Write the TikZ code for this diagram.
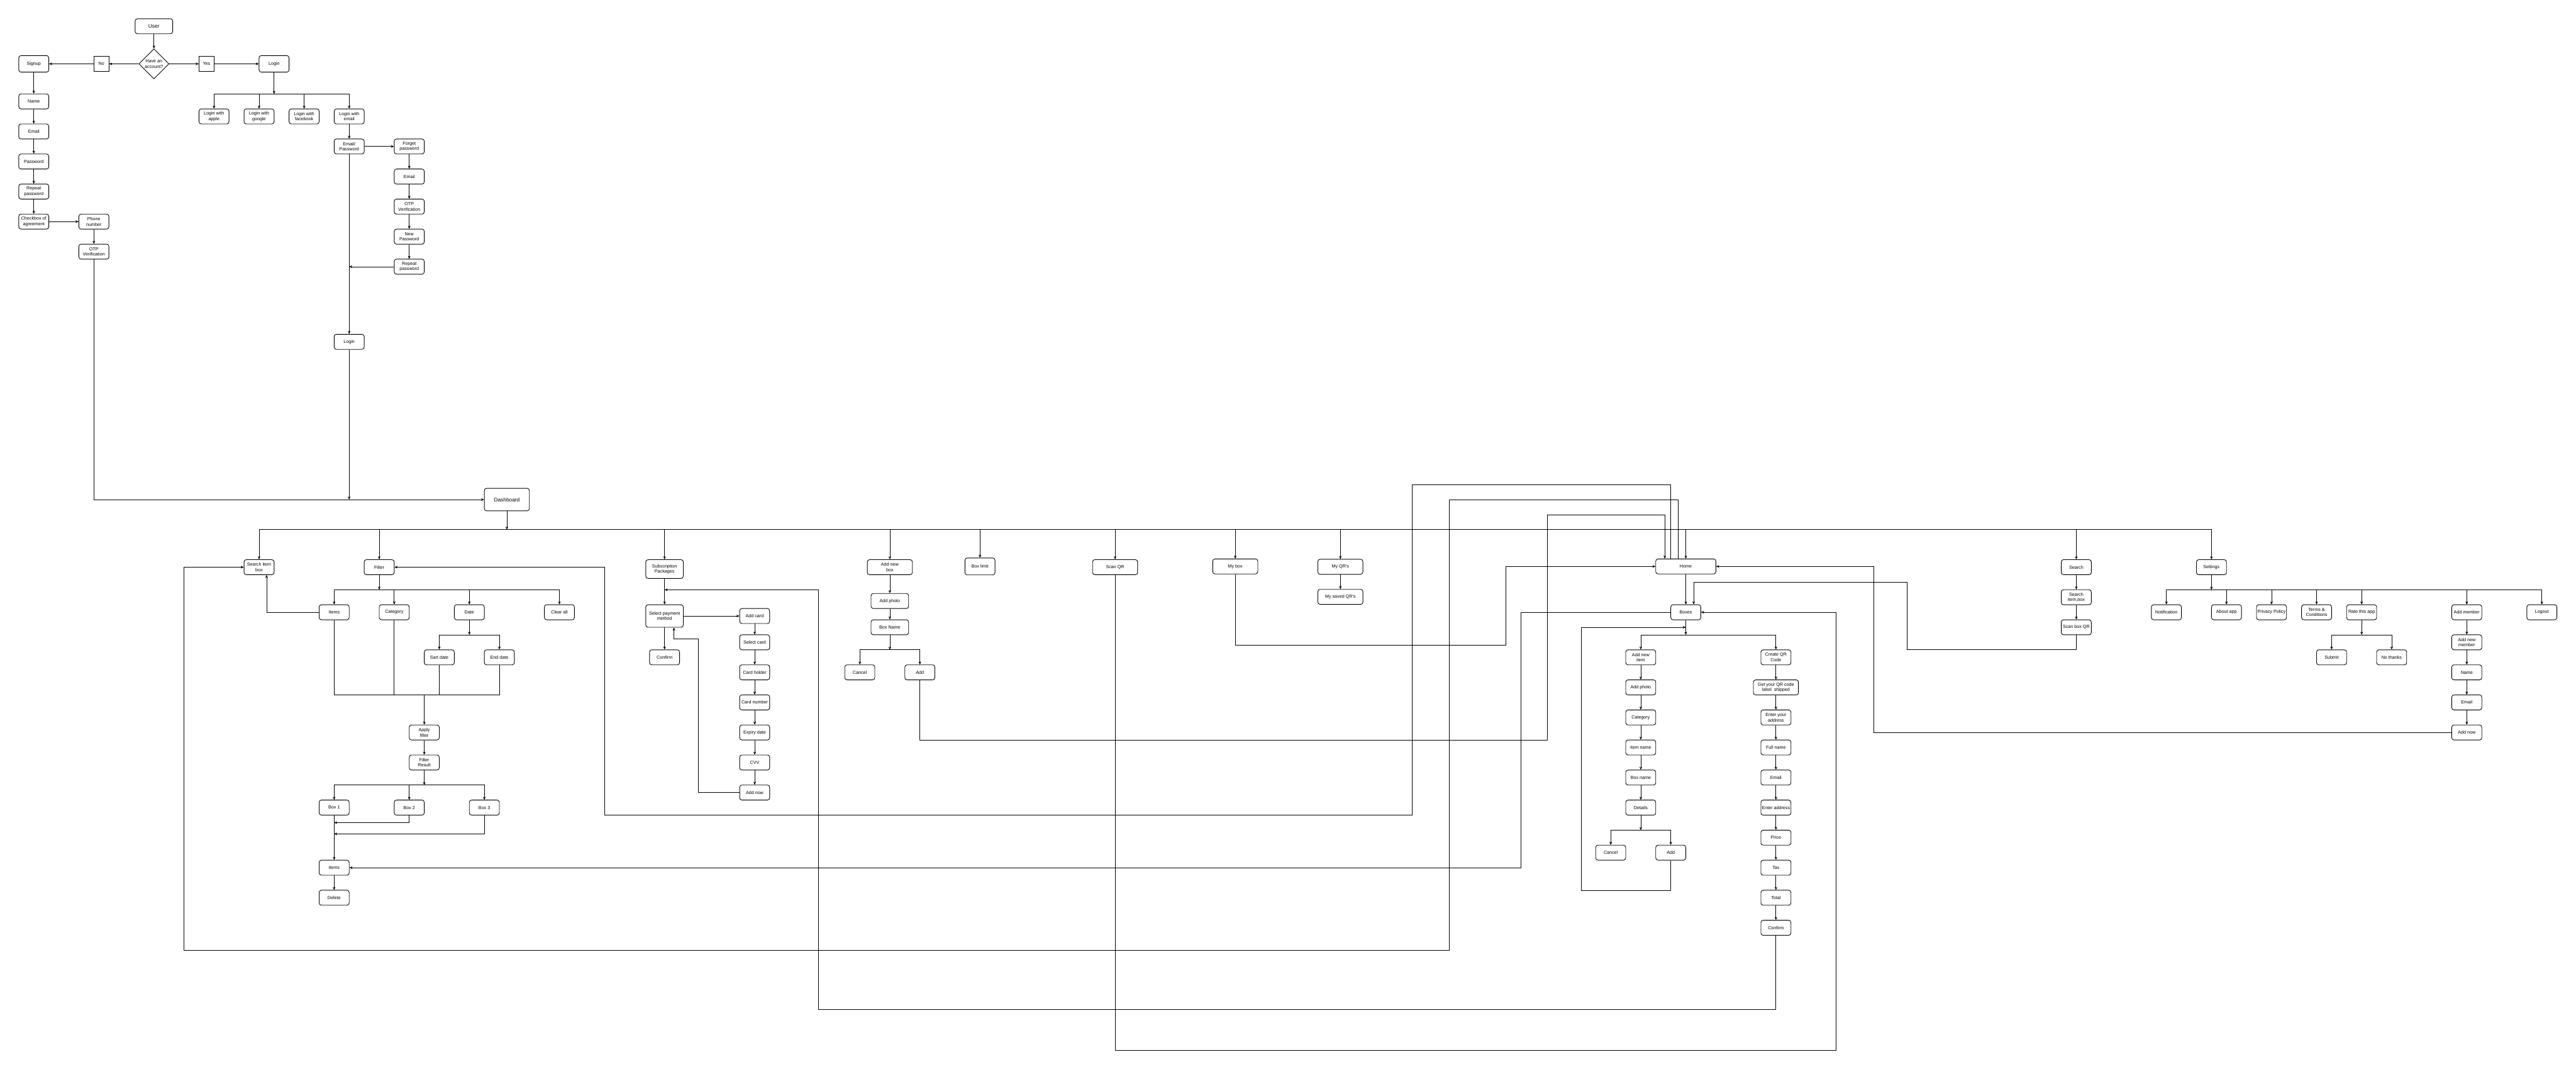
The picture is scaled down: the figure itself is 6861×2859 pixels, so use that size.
\documentclass[tikz,border=0pt]{standalone}
\usepackage{fontspec}
\setmainfont{Liberation Sans}
\usetikzlibrary{shapes.geometric, arrows.meta, positioning}

\begin{document}
\begin{tikzpicture}[x=1pt, y=-1pt, every node/.style={font=\fontsize{12}{14.4}\selectfont}]
\tikzstyle{box} = [rectangle, rounded corners=6pt, minimum width=80pt, minimum height=40pt, text centered, align=center, inner sep=2pt, draw=black, line width=1.5pt]
\tikzstyle{tag} = [rectangle, minimum width=40pt, minimum height=40pt, text centered, draw=black, line width=1.5pt]
\tikzstyle{decision} = [diamond, minimum width=80pt, minimum height=80pt, inner sep=0pt, align=center, draw=black, line width=1.5pt]
\tikzstyle{arrow} = [line width=1.2pt, -{Stealth[length=8pt, width=7pt, inset=2.5pt]}]
\tikzstyle{line} = [line width=1.2pt]

\useasboundingbox (0,0) rectangle (6861,2859);

\node (user) [box, minimum width=100pt, font=\fontsize{14}{16}\selectfont] at (410,70) {User};
\node (acct) [decision] at (410,170) {Have an\\account?};
\node (no) [tag] at (270,170) {No};
\node (yes) [tag] at (550,170) {Yes};
\node (signup) [box, minimum height=44pt] at (90,170) {Signup};
\node (login) [box, minimum height=44pt] at (730,170) {Login};
\coordinate (lbus) at (730,250);
\node (lapple) [box] at (570,310) {Login with\\apple};
\node (lgoogle) [box] at (690,310) {Login with\\google};
\node (lfb) [box] at (810,310) {Login with\\facebook};
\node (lemail) [box] at (930,310) {Login with\\email};
\node (emailpw) [box] at (930,390) {Email/\\Password};
\node (forget) [box] at (1090,390) {Forget\\password};
\node (femail) [box] at (1090,470) {Email};
\node (fotp) [box] at (1090,550) {OTP\\Verification};
\node (fnewpw) [box] at (1090,630) {New\\Password};
\node (frepeat) [box] at (1090,710) {Repeat\\password};
\coordinate (pwjoin) at (930,710);
\node (login2) [box] at (930,910) {Login};
\coordinate (dmerge) at (930,1330);

\node (sname) [box] at (90,270) {Name};
\node (semail) [box] at (90,350) {Email};
\node (spw) [box] at (90,430) {Password};
\node (srepeat) [box] at (90,510) {Repeat\\password};
\node (scheck) [box] at (90,590) {Checkbox of\\agreement};
\node (sphone) [box] at (250,590) {Phone\\number};
\node (sotp) [box] at (250,670) {OTP\\Verification};

\node (dash) [box, minimum width=120pt, minimum height=60pt, font=\fontsize{14}{16}\selectfont] at (1350,1330) {Dashboard};
\coordinate (dbus) at (1350,1410);

\node (searchbox) [box] at (690,1510) {Search item\\box};
\node (filter) [box] at (1010,1510) {Filter};
\coordinate (fbus) at (1010,1570);
\node (fitems) [box] at (890,1630) {Items};
\node (fcat) [box] at (1050,1630) {Category};
\node (fdate) [box] at (1250,1630) {Date};
\node (fclear) [box] at (1490,1630) {Clear all};
\coordinate (datebus) at (1250,1690);
\node (fstart) [box] at (1170,1750) {Sart date};
\node (fend) [box] at (1330,1750) {End date};
\coordinate (applybus) at (1130,1850);
\node (apply) [box] at (1130,1950) {Apply\\filter};
\node (result) [box] at (1130,2030) {Filter\\Result};
\coordinate (rbus) at (1130,2090);
\node (box1) [box] at (890,2150) {Box 1};
\node (box2) [box] at (1090,2150) {Box 2};
\node (box3) [box] at (1290,2150) {Box 3};
\coordinate (b2j) at (890,2190);
\coordinate (b3j) at (890,2220);
\node (items) [box] at (890,2310) {items};
\node (delete) [box] at (890,2390) {Delete};

\node (subs) [box, minimum width=100pt, minimum height=50pt] at (1770,1515) {Subscription\\Packages};
\coordinate (paysub) at (1770,1570);
\node (payment) [box, minimum width=100pt, minimum height=60pt] at (1770,1640) {Select payment\\method};
\node (pconfirm) [box] at (1770,1750) {Confirm};
\node (addcard) [box] at (2010,1640) {Add card};
\node (selcard) [box] at (2010,1710) {Select card};
\node (holder) [box] at (2010,1790) {Card holder};
\node (cardno) [box] at (2010,1870) {Card number};
\node (expiry) [box] at (2010,1950) {Expiry date};
\node (cvv) [box] at (2010,2030) {CVV};
\node (addnow) [box] at (2010,2110) {Add now};

\node (addbox) [box, minimum width=120pt] at (2370,1510) {Add new\\box};
\node (bphoto) [box, minimum width=100pt] at (2370,1600) {Add photo};
\node (bname) [box, minimum width=100pt] at (2370,1670) {Box Name};
\coordinate (bbus) at (2370,1730);
\node (bcancel) [box] at (2290,1790) {Cancel};
\node (badd) [box] at (2450,1790) {Add};
\node (boxlimit) [box, minimum height=45pt] at (2610,1508) {Box limit};
\node (scanqr) [box, minimum width=120pt] at (2970,1510) {Scan QR};
\node (mybox) [box, minimum width=120pt] at (3290,1508) {My box};
\node (myqr) [box, minimum width=120pt] at (3570,1509) {My QR's};
\node (mysaved) [box, minimum width=120pt] at (3570,1589) {My saved QR's};

\node (home) [box, minimum width=160pt] at (4490,1508) {Home};
\node (boxes) [box] at (4490,1630) {Boxes};
\coordinate (bxjoin) at (4490,1670);
\coordinate (bxbus) at (4490,1690);
\node (newitem) [box] at (4370,1750) {Add new\\item};
\node (iphoto) [box] at (4370,1830) {Add photo};
\node (icat) [box] at (4370,1910) {Category};
\node (iname) [box] at (4370,1990) {item name};
\node (ibox) [box] at (4370,2070) {Box name};
\node (idetails) [box] at (4370,2150) {Details};
\coordinate (ibus) at (4370,2210);
\node (icancel) [box] at (4290,2270) {Cancel};
\node (iadd) [box] at (4450,2270) {Add};
\node (createqr) [box] at (4730,1750) {Create QR\\Code};
\node (shipped) [box, minimum width=120pt] at (4730,1830) {Get your QR code\\label\ \ shipped};
\node (youraddr) [box] at (4730,1910) {Enter your\\address};
\node (fullname) [box] at (4730,1990) {Full name};
\node (qemail) [box] at (4730,2070) {Email};
\node (enteraddr) [box, inner sep=0pt] at (4730,2150) {Enter address};
\node (price) [box] at (4730,2230) {Price};
\node (tax) [box] at (4730,2310) {Tax};
\node (total) [box] at (4730,2390) {Total};
\node (qconfirm) [box] at (4730,2470) {Confirm};

\node (search) [box] at (5530,1510) {Search};
\node (searchib) [box] at (5530,1590) {Search\\item,box};
\node (scanbox) [box] at (5530,1670) {Scan box QR};
\node (settings) [box] at (5890,1510) {Settings};
\coordinate (sbus) at (5890,1570);
\node (notif) [box] at (5770,1630) {Notification};
\node (about) [box] at (5930,1630) {About app};
\node (privacy) [box, inner sep=0pt] at (6050,1630) {Privacy Policy};
\node (terms) [box] at (6170,1630) {Terms \&\\Conditions};
\node (rate) [box] at (6290,1630) {Rate this app};
\node (addmember) [box] at (6570,1630) {Add member};
\node (logout) [box] at (6770,1630) {Logout};
\coordinate (ratebus) at (6290,1690);
\node (submit) [box] at (6210,1750) {Submit};
\node (nothanks) [box] at (6370,1750) {No thanks};
\node (newmember) [box] at (6570,1710) {Add new\\member};
\node (mname) [box] at (6570,1790) {Name};
\node (memail) [box] at (6570,1870) {Email};
\node (maddnow) [box] at (6570,1950) {Add now};

\draw [arrow] (user) -- (acct);
\draw [arrow] (acct) -- (no);
\draw [arrow] (no) -- (signup);
\draw [arrow] (acct) -- (yes);
\draw [arrow] (yes) -- (login);
\draw [arrow] (login) -- (lbus);
\draw [arrow] (lbus) -| (lapple);
\draw [arrow] (lbus) -| (lgoogle);
\draw [arrow] (lbus) -| (lfb);
\draw [arrow] (lbus) -| (lemail);
\draw [arrow] (lemail) -- (emailpw);
\draw [arrow] (emailpw) -- (forget);
\draw [arrow] (forget) -- (femail);
\draw [arrow] (femail) -- (fotp);
\draw [arrow] (fotp) -- (fnewpw);
\draw [arrow] (fnewpw) -- (frepeat);
\draw [arrow] (frepeat) -- (pwjoin);
\draw [arrow] (emailpw) -- (login2);
\draw [arrow] (login2) -- (dmerge);

\draw [arrow] (signup) -- (sname);
\draw [arrow] (sname) -- (semail);
\draw [arrow] (semail) -- (spw);
\draw [arrow] (spw) -- (srepeat);
\draw [arrow] (srepeat) -- (scheck);
\draw [arrow] (scheck) -- (sphone);
\draw [arrow] (sphone) -- (sotp);
\draw [arrow] (sotp) |- (dash);

\draw [arrow] (dash) -- (dbus);
\draw [arrow] (dbus) -| (searchbox);
\draw [arrow] (dbus) -| (filter);
\draw [arrow] (dbus) -| (subs);
\draw [arrow] (dbus) -| (addbox);
\draw [arrow] (dbus) -| (boxlimit);
\draw [arrow] (dbus) -| (scanqr);
\draw [arrow] (dbus) -| (mybox);
\draw [arrow] (dbus) -| (myqr);
\draw [arrow] (dbus) -| (home);
\draw [arrow] (dbus) -| (search);
\draw [arrow] (dbus) -| (settings);

\draw [arrow] (filter) -- (fbus);
\draw [arrow] (fbus) -| (fitems);
\draw [arrow] (fbus) -| (fcat);
\draw [arrow] (fbus) -| (fdate);
\draw [arrow] (fbus) -| (fclear);
\draw [arrow] (fitems) -| ([xshift=20pt]searchbox.south);
\draw [arrow] (fdate) -- (datebus);
\draw [arrow] (datebus) -| (fstart);
\draw [arrow] (datebus) -| (fend);
\draw [line] (fitems) |- (applybus);
\draw [line] (fcat) |- (applybus);
\draw [line] (fstart) |- (applybus);
\draw [line] (fend) |- (applybus);
\draw [arrow] (applybus) -- (apply);
\draw [arrow] (apply) -- (result);
\draw [arrow] (result) -- (rbus);
\draw [arrow] (rbus) -| (box1);
\draw [arrow] (rbus) -| (box2);
\draw [arrow] (rbus) -| (box3);
\draw [arrow] (box2) |- (b2j);
\draw [arrow] (box3) |- (b3j);
\draw [arrow] (box1) -- (items);
\draw [arrow] (items) -- (delete);

\draw [arrow] (subs) -- (payment);
\draw [arrow] (payment) -- (addcard);
\draw [arrow] (payment) -- (pconfirm);
\draw [arrow] (addcard) -- (selcard);
\draw [arrow] (selcard) -- (holder);
\draw [arrow] (holder) -- (cardno);
\draw [arrow] (cardno) -- (expiry);
\draw [arrow] (expiry) -- (cvv);
\draw [arrow] (cvv) -- (addnow);
\draw [arrow] (addnow) -| (1860,1700) -| ([xshift=25pt]payment.south);

\draw [arrow] (addbox) -- (bphoto);
\draw [arrow] (bphoto) -- (bname);
\draw [arrow] (bname) -- (bbus);
\draw [arrow] (bbus) -| (bcancel);
\draw [arrow] (bbus) -| (badd);
\draw [arrow] (myqr) -- (mysaved);

\draw [arrow] (home) -- (boxes);
\draw [arrow] (boxes) -- (bxbus);
\draw [arrow] (bxbus) -| (newitem);
\draw [arrow] (bxbus) -| (createqr);
\draw [arrow] (newitem) -- (iphoto);
\draw [arrow] (iphoto) -- (icat);
\draw [arrow] (icat) -- (iname);
\draw [arrow] (iname) -- (ibox);
\draw [arrow] (ibox) -- (idetails);
\draw [arrow] (idetails) -- (ibus);
\draw [arrow] (ibus) -| (icancel);
\draw [arrow] (ibus) -| (iadd);
\draw [arrow] (createqr) -- (shipped);
\draw [arrow] (shipped) -- (youraddr);
\draw [arrow] (youraddr) -- (fullname);
\draw [arrow] (fullname) -- (qemail);
\draw [arrow] (qemail) -- (enteraddr);
\draw [arrow] (enteraddr) -- (price);
\draw [arrow] (price) -- (tax);
\draw [arrow] (tax) -- (total);
\draw [arrow] (total) -- (qconfirm);

\draw [arrow] (search) -- (searchib);
\draw [arrow] (searchib) -- (scanbox);
\draw [arrow] (settings) -- (sbus);
\draw [arrow] (sbus) -| (notif);
\draw [arrow] (sbus) -| (about);
\draw [arrow] (sbus) -| (privacy);
\draw [arrow] (sbus) -| (terms);
\draw [arrow] (sbus) -| (rate);
\draw [arrow] (sbus) -| (addmember);
\draw [arrow] (sbus) -| (logout);
\draw [arrow] (rate) -- (ratebus);
\draw [arrow] (ratebus) -| (submit);
\draw [arrow] (ratebus) -| (nothanks);
\draw [arrow] (addmember) -- (newmember);
\draw [arrow] (newmember) -- (mname);
\draw [arrow] (mname) -- (memail);
\draw [arrow] (memail) -- (maddnow);

\draw [arrow] ([xshift=-40pt]home.north) |- (3761,1290) |- (1610,2170) |- (filter);
\draw [arrow] ([xshift=-20pt]home.north) |- (3860,1330) |- (490,2530) |- (searchbox);
\draw [arrow] (badd) |- (4121,1970) |- (4434,1370) -- ([xshift=-56pt]home.north);
\draw [arrow] (mybox) |- (4011,1718) |- (home);
\draw [arrow] (maddnow) -| (4990,1508) -- (home);
\draw [arrow] (scanbox) |- (5080,1730) |- (4511,1550) -- ([xshift=21pt]boxes.north);
\draw [arrow] (boxes) -| (4051,2310) -- (items);
\draw [arrow] (scanqr) |- (4890,2797) |- (boxes);
\draw [arrow] (iadd) |- (4211,2370) |- (bxjoin);
\draw [arrow] (qconfirm) |- (2180,2687) |- (paysub);

\end{tikzpicture}
\end{document}
